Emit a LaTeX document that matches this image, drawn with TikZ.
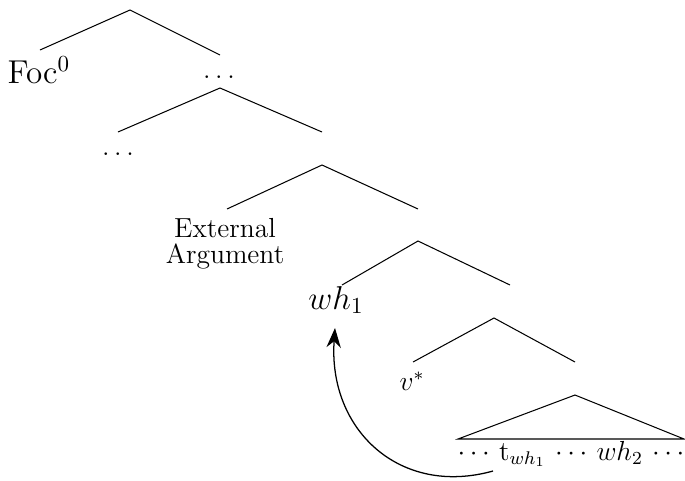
\documentclass[tikz,border=0pt]{standalone}
\usetikzlibrary{arrows.meta}
\tikzset{
  branch/.style={draw,line width=0.45pt},
  leaf/.style={font=\large,inner sep=1pt},
  big leaf/.style={font=\Large,inner sep=1pt},
  plain leaf/.style={font=\large,inner sep=1pt,align=center},
  move arrow/.style={-{Stealth[length=3mm,width=2.2mm]},line width=0.55pt}
}
\begin{document}
\begin{tikzpicture}[x=0.0153cm,y=-0.0153cm]
  \useasboundingbox (0,0) rectangle (685,480);
  % FocP
  \coordinate (foc top) at (130,10);
  \node[big leaf,anchor=base] (foc) at (39,83) {Foc$^0$};
  \node[leaf,anchor=base] (dots a) at (219,78) {$\dots$};
  \draw[branch] (40,50) -- (foc top) -- (220,55);
  % intermediate projection
  \coordinate (mid top) at (220,88);
  \node[leaf,anchor=base] (dots b) at (118,155) {$\dots$};
  \draw[branch] (118,132) -- (mid top) -- (322,132);
  % vP with external argument
  \coordinate (vp top) at (322,165);
  \node[plain leaf,anchor=north] (ext) at (225,216) {External\\[-3pt]Argument};
  \draw[branch] (227,209) -- (vp top) -- (418,209);
  % outer specifier
  \coordinate (spec top) at (418,241);
  \node[big leaf,anchor=base] (wh1) at (336,309) {$wh_1$};
  \draw[branch] (342,285) -- (spec top) -- (510,285);
  % v*
  \coordinate (v top) at (494,318);
  \node[leaf,anchor=base] (vstar) at (412,390) {$v^{*}$};
  \draw[branch] (413,362) -- (v top) -- (575,362);
  % complement triangle
  \coordinate (tri top) at (575,395);
  \draw[branch] (458,439) -- (tri top) -- (684,439) -- cycle;
  \node[leaf,anchor=base] (comp) at (571,460) {$\cdots\,\mathrm{t}_{wh_1}\,\cdots\, wh_2\,\cdots$};
  \coordinate (trace) at (493,471);
  \coordinate (land) at (335,328);
  % movement
  \draw[move arrow] (trace) .. controls (400,497) and (328,430) .. (land);
\end{tikzpicture}
\end{document}
